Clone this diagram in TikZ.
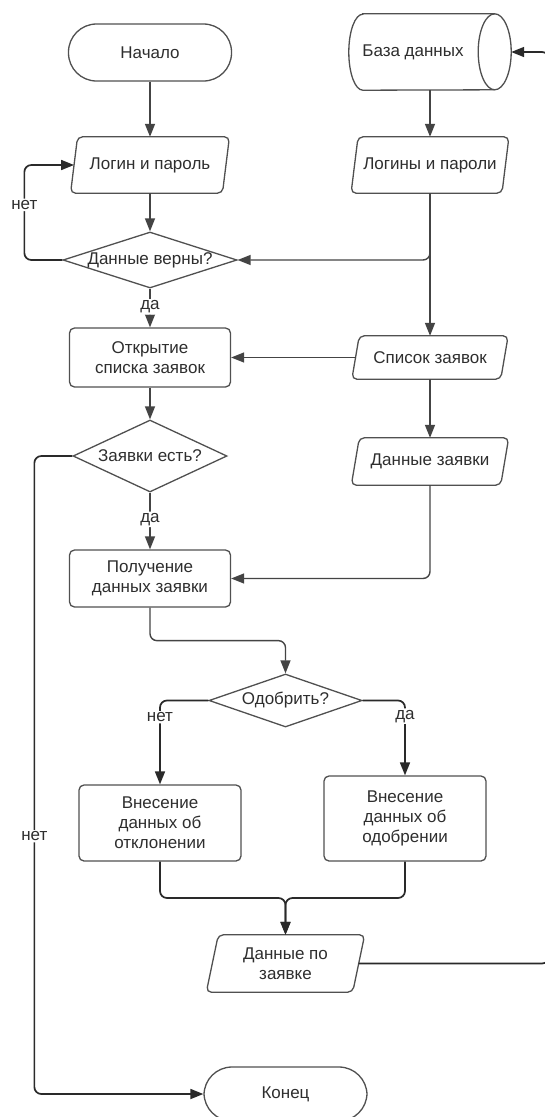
\documentclass[tikz,border=0pt]{standalone}
\usepackage{fontspec}
\setmainfont{Liberation Sans}
\usetikzlibrary{arrows.meta,shapes.geometric}

\definecolor{boxc}{HTML}{505050}
\definecolor{linec}{HTML}{444444}
\definecolor{darkc}{HTML}{2A2A2A}
\definecolor{txt}{HTML}{2E2E2E}
\newcommand\fs{\fontsize{17}{20}\selectfont}

% outline of an input/output block drawn around a plain node
\newcommand\ioframe[2]{%
  \draw[draw=boxc,line width=1.3pt,rounded corners=5pt]
    ([xshift=#2]#1.north west) -- ([xshift=#2]#1.north east) --
    ([xshift=-#2]#1.south east) -- ([xshift=-#2]#1.south west) -- cycle;}

\tikzset{
  base/.style={draw=boxc, line width=1.3pt, text=txt, inner sep=0pt, align=center, font=\fs},
  term/.style={base, rectangle, rounded corners=28pt, minimum width=163pt, minimum height=57pt},
  proc/.style={base, rectangle, rounded corners=5pt, minimum width=161pt},
  decision/.style={base, diamond, aspect=1},
  iobox/.style={rectangle, inner sep=0pt, text=txt, align=center, font=\fs},
  conn/.style={draw=linec, line width=1.4pt, rounded corners=7pt,
    -{Triangle[length=13pt,width=10pt]}},
  heavy/.style={conn, draw=darkc, line width=1.7pt},
  lbl/.style={fill=white, text=txt, font=\fs, inner sep=1.5pt},
}

\begin{document}
\begin{tikzpicture}[x=1pt,y=-1pt]
\useasboundingbox (0,0) rectangle (544,1117);
\fill[white] (0,0) rectangle (544,1117);

% left column
\node[term] (start) at (150,52.5) {Начало};
\node[iobox, minimum width=151.5pt, minimum height=56pt] (login) at (150,165) {Логин и пароль};
\ioframe{login}{3.5pt}
\node[decision, minimum width=174pt, minimum height=56pt] (check) at (150,260) {\makebox[0pt]{Данные верны?}};
\node[proc, minimum height=59pt] (open) at (150,357.5) {Открытие\\списка заявок};
\node[decision, minimum width=154pt, minimum height=72pt] (has) at (150,456) {\makebox[0pt]{Заявки есть?}};
\node[proc, minimum height=57pt] (get) at (150,578.5) {Получение\\данных заявки};

% decision on the application
\node[decision, minimum width=153pt, minimum height=53pt] (approve) at (285.5,700.5) {\makebox[0pt]{Одобрить?}};
\node[proc, minimum height=76pt, minimum width=162pt] (reject) at (160,823) {Внесение\\данных об\\отклонении};
\node[proc, minimum height=85pt, minimum width=162pt] (accept) at (405,818.5) {Внесение\\данных об\\одобрении};
\coordinate (join) at (285.5,898);
\node[iobox, minimum width=146pt, minimum height=57pt] (pay) at (285.5,963.5) {Данные по\\заявке};
\ioframe{pay}{6pt}
\node[term, minimum width=163pt, minimum height=54pt] (end) at (285.5,1094) {Конец};

% right column: database and its data
\node[rectangle, inner sep=0pt, minimum width=162pt, minimum height=76pt] (db) at (430,52) {};
\draw[draw=boxc,line width=1.3pt]
  ([xshift=14pt]db.north west) -- ([xshift=-16.5pt]db.north east)
  arc[start angle=90,end angle=-90,x radius=16.5pt,y radius=38pt]
  -- ([xshift=14pt]db.south west)
  arc[start angle=270,end angle=90,x radius=14pt,y radius=38pt] -- cycle;
\draw[draw=boxc,line width=1.3pt] ([xshift=-16.5pt]db.north east)
  arc[start angle=90,end angle=270,x radius=16.5pt,y radius=38pt];
\node[iobox] (dbtext) at (413,52) {База данных};

\node[iobox, minimum width=150.5pt, minimum height=56pt] (logins) at (430,165) {Логины и пароли};
\ioframe{logins}{3.5pt}
\node[iobox, minimum width=148.5pt, minimum height=43pt] (list) at (430,357.5) {Список заявок};
\ioframe{list}{3.7pt}
\node[iobox, minimum width=149pt, minimum height=47pt] (data) at (430,461.5) {Данные заявки};
\ioframe{data}{4pt}
\coordinate (rim) at (549,500);

% connectors
\draw[conn] (start) -- (login);
\draw[conn] (login) -- (check);
\draw[heavy] (check.west) -- ++(-38,0) |- node[lbl,pos=0.29]{нет} (login.west);
\draw[conn] (check.south) -- node[lbl,pos=0.47]{да} (open.north);
\draw[conn] (db.south) -- (logins.north);
\draw[conn] (logins.south) |- (check.east);
\draw[conn] (logins.south) -- (list.north);
\draw[conn] (list.west) -- (open.east);
\draw[conn] (list.south) -- (data.north);
\draw[conn] (open.south) -- (has.north);
\draw[heavy] (has.west) -- ++(-38,0) |- node[lbl,pos=0.298]{нет} (end.west);
\draw[conn] (has.south) -- node[lbl,pos=0.47]{да} (get.north);
\draw[conn] (data.south) |- (get.east);
\draw[conn] (get.south) -- ++(0,33) -| (approve.north);
\draw[heavy] (approve.west) -| node[lbl,pos=0.6]{нет} (reject.north);
\draw[heavy] (approve.east) -| node[lbl,pos=0.605]{да} (accept.north);
\draw[heavy] (reject.south) |- (join) -- (pay.north);
\draw[heavy] (accept.south) |- (join) -- (pay.north);
\draw[heavy] (pay.east) -| (rim) |- (db.east);
\end{tikzpicture}
\end{document}
